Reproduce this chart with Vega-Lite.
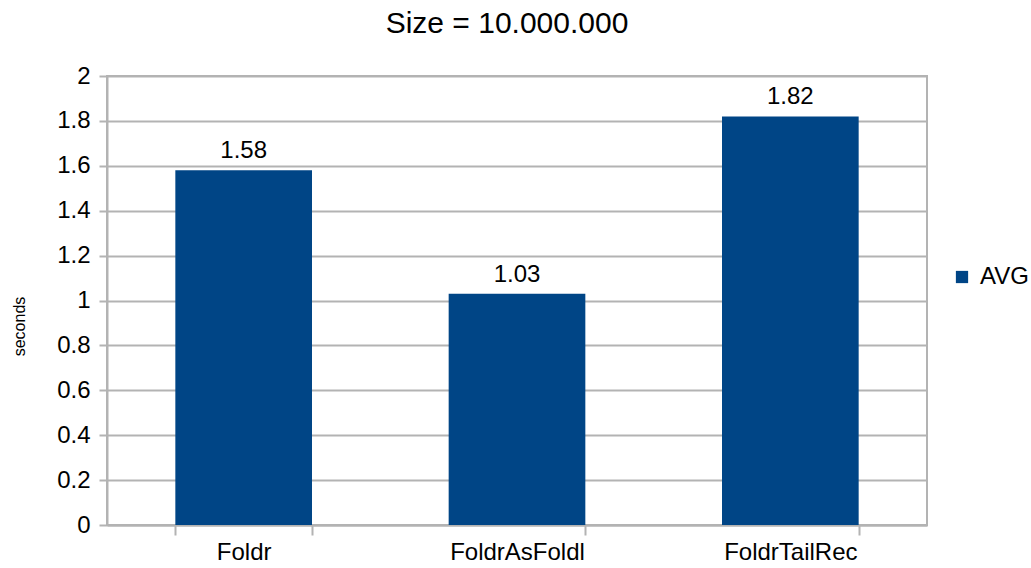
{
  "$schema": "https://vega.github.io/schema/vega-lite/v6.json",
  "autosize": {"type": "none"},
  "padding": {"left": 107, "top": 76, "right": 104, "bottom": 43},
  "width": 820,
  "height": 449,
  "title": {
    "text": "Size = 10.000.000",
    "font": "Liberation Sans",
    "fontSize": 30,
    "fontWeight": "normal",
    "color": "#000000",
    "anchor": "middle",
    "dx": -10,
    "offset": 25
  },
  "data": {
    "values": [
      {"method": "Foldr", "series": "AVG", "seconds": 1.58},
      {"method": "FoldrAsFoldl", "series": "AVG", "seconds": 1.03},
      {"method": "FoldrTailRec", "series": "AVG", "seconds": 1.82}
    ]
  },
  "config": {
    "font": "Liberation Sans",
    "view": {"stroke": "#b3b3b3", "strokeWidth": 2},
    "axis": {
      "labelFont": "Liberation Sans",
      "labelColor": "#000000",
      "labelFontSize": 24,
      "domainColor": "#b3b3b3",
      "domainWidth": 2,
      "tickColor": "#b3b3b3",
      "tickWidth": 2,
      "gridColor": "#b3b3b3",
      "gridWidth": 2
    }
  },
  "encoding": {
    "x": {
      "field": "method",
      "type": "nominal",
      "sort": null,
      "scale": {"paddingInner": 0.5, "paddingOuter": 0.25},
      "axis": {
        "title": null,
        "labelAngle": 0,
        "tickBand": "extent",
        "tickSize": 10,
        "labelPadding": 5,
        "grid": false
      }
    },
    "y": {
      "field": "seconds",
      "type": "quantitative",
      "scale": {"domain": [0, 2], "nice": false},
      "axis": {
        "values": [0, 0.2, 0.4, 0.6, 0.8, 1, 1.2, 1.4, 1.6, 1.8, 2],
        "format": "~g",
        "tickSize": 8,
        "labelPadding": 9,
        "title": "seconds",
        "titleFont": "Liberation Sans",
        "titleFontSize": 16,
        "titleFontWeight": "normal",
        "titleColor": "#000000",
        "titleX": -88,
        "titleY": 250,
        "titleAlign": "center",
        "titleBaseline": "middle",
        "titleAngle": -90
      }
    }
  },
  "layer": [
    {
      "mark": {"type": "bar"},
      "encoding": {
        "color": {
          "field": "series",
          "type": "nominal",
          "scale": {"range": ["#004586"]},
          "legend": {
            "title": null,
            "orient": "none",
            "legendX": 843,
            "legendY": 189,
            "symbolType": "square",
            "symbolSize": 150,
            "symbolStrokeWidth": 0,
            "labelFont": "Liberation Sans",
            "labelFontSize": 24,
            "labelColor": "#000000",
            "labelOffset": 6
          }
        }
      }
    },
    {
      "mark": {
        "type": "text",
        "baseline": "bottom",
        "dy": -7,
        "font": "Liberation Sans",
        "fontSize": 24,
        "color": "#000000"
      },
      "encoding": {
        "text": {"field": "seconds", "type": "quantitative", "format": ".2f"}
      }
    }
  ]
}
